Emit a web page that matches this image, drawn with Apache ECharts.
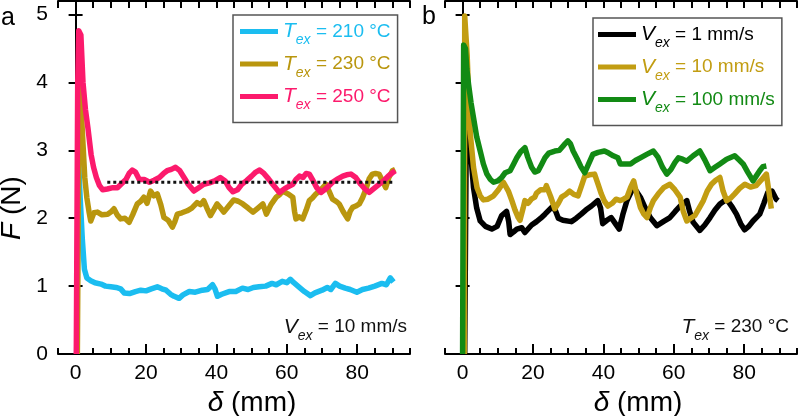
<!DOCTYPE html>
<html>
<head>
<meta charset="utf-8">
<script src="https://cdn.jsdelivr.net/npm/echarts@6/dist/echarts.min.js"></script>
<style>html,body{margin:0;padding:0;background:#fff}#c{width:800px;height:416px}</style>
</head>
<body>
<div id="c"></div>
<script>
// ---- data (delta in mm, F in N) ----
const xTickLabels = [0, 20, 40, 60, 80];
const yTickLabels = [0, 1, 2, 3, 4, 5];

const t210 = [[0.3,0],[0.8,2.9],[1.3,2.3],[1.9,1.7],[2.5,1.25],[3.2,1.12],[4.3,1.08],[5.5,1.05],[7.2,1.03],[8.5,1.0],[10,0.99],[11.5,0.98],[12.8,0.96],[13.8,0.9],[15.3,0.89],[17,0.92],[18.5,0.94],[20,0.93],[21.5,0.96],[23.2,0.99],[24.5,0.96],[25.7,0.94],[27,0.88],[28,0.85],[29.4,0.82],[30.5,0.87],[32.3,0.92],[34,0.91],[36,0.94],[37.5,0.95],[38.9,1.02],[39.6,0.96],[40.3,0.85],[41.5,0.88],[43.6,0.92],[45.5,0.92],[47.4,0.97],[49,0.95],[50.5,0.98],[52.1,0.99],[54,1.0],[55.8,1.04],[57,1.02],[58.7,1.07],[60,1.05],[61,1.1],[62,1.05],[63.4,0.99],[65,0.92],[66.7,0.86],[68,0.9],[70,0.94],[71.5,0.98],[72.5,0.95],[73.8,1.04],[75,1.0],[76.6,0.97],[78,0.95],[79.9,0.91],[81.5,0.95],[83.2,0.97],[85,1.0],[87,1.04],[88.3,1.02],[89.4,1.12],[90.3,1.06]];

const t230 = [[0.5,0],[1.0,4.0],[1.5,3.7],[2.0,3.2],[2.6,2.6],[3.2,2.3],[3.8,2.1],[4.3,1.96],[5.2,2.08],[6.2,2.09],[7.5,2.05],[9.1,2.06],[10.2,2.1],[10.9,2.14],[11.8,2.05],[12.8,1.99],[14,2.0],[15.2,1.94],[16.2,2.05],[17.5,2.21],[18.5,2.25],[19.4,2.31],[20.3,2.22],[21.3,2.40],[22.2,2.33],[23.2,2.36],[24.2,2.2],[25.1,2.01],[26.3,1.97],[27.5,1.87],[28.2,1.95],[28.9,2.06],[30.2,2.08],[31.7,2.11],[33,2.15],[34.5,2.23],[35.5,2.2],[36.4,2.26],[37.3,2.15],[38.3,2.04],[39.2,2.12],[40.2,2.21],[41.2,2.15],[42.1,2.09],[43.5,2.18],[44.9,2.27],[46.2,2.25],[47.5,2.21],[49,2.15],[50.4,2.09],[51.8,2.15],[53.2,2.21],[54.2,2.06],[55.5,2.2],[57,2.31],[58,2.35],[58.9,2.40],[60.3,2.36],[61.7,2.31],[62.2,2.1],[62.6,1.99],[63.5,2.02],[64.5,1.99],[65.5,2.12],[66.4,2.26],[67.3,2.3],[68.3,2.36],[69.7,2.42],[71.1,2.5],[72,2.4],[73,2.28],[74,2.25],[74.9,2.21],[76,2.1],[77.3,1.99],[78,2.1],[78.7,2.16],[79.6,2.18],[80.6,2.21],[81.5,2.3],[82.5,2.43],[83.4,2.58],[84.3,2.65],[85.2,2.66],[86.2,2.65],[87.2,2.55],[88.1,2.45],[89,2.6],[90,2.7],[90.8,2.72]];

const t250 = [[0.2,0],[0.6,4.0],[0.9,4.76],[1.5,4.7],[2.1,4.0],[2.8,3.6],[3.5,3.33],[4.4,2.94],[5.1,2.75],[5.9,2.6],[6.8,2.48],[7.7,2.42],[9,2.43],[10.6,2.45],[11.9,2.45],[12.9,2.5],[14.3,2.57],[15.2,2.66],[16.1,2.71],[17,2.68],[18.1,2.57],[19.5,2.57],[21,2.53],[22.3,2.56],[23.8,2.6],[25,2.66],[26,2.7],[27.2,2.72],[28.4,2.75],[29.6,2.7],[30.8,2.6],[32,2.5],[33.6,2.40],[35,2.45],[36.4,2.5],[38,2.52],[39.5,2.55],[41.1,2.6],[42.5,2.55],[43.6,2.45],[44.7,2.39],[46,2.42],[47.2,2.5],[48.5,2.55],[50,2.62],[51.2,2.68],[52.3,2.71],[53.5,2.66],[54.8,2.58],[56,2.5],[57.9,2.38],[59.5,2.44],[61.7,2.5],[62.6,2.57],[63.6,2.62],[64.6,2.6],[65.5,2.66],[66.4,2.65],[67.5,2.55],[68.5,2.45],[69.7,2.38],[71,2.43],[72,2.48],[73,2.53],[74.5,2.58],[75.9,2.62],[77,2.64],[78.2,2.65],[79.6,2.6],[81,2.5],[82.2,2.43],[83.4,2.38],[84.8,2.44],[86.2,2.5],[87.5,2.55],[88.8,2.62],[90,2.67],[90.8,2.7]];

const plateau = [[9,2.53],[90,2.53]];

const v1 = [[0.6,0],[1.1,3.7],[1.7,3.5],[2.4,2.9],[3.1,2.45],[4,2.15],[5,1.96],[6.5,1.88],[8.3,1.84],[9.8,1.88],[11.1,2.04],[12.5,2.1],[13.1,1.95],[13.5,1.76],[14.5,1.8],[15.4,1.84],[16.8,1.86],[17.7,1.79],[19.6,1.9],[21,1.95],[22.2,2.0],[23.4,2.06],[25.3,2.16],[26.3,2.12],[27.2,2.0],[28.5,1.97],[30.9,1.95],[32.3,2.0],[33.7,2.06],[35,2.12],[36.6,2.18],[38.4,2.26],[39.2,2.15],[39.8,1.92],[41,1.97],[42.2,2.01],[43.4,1.92],[44.5,1.84],[45.5,2.05],[46.7,2.26],[48,2.4],[48.6,2.45],[49.6,2.38],[50.5,2.31],[51.9,2.15],[53.3,2.01],[55.2,1.89],[57,1.95],[58.9,2.01],[60.4,2.1],[61.8,2.18],[63.7,2.26],[64.5,2.1],[65.5,1.94],[67.4,1.82],[68.8,1.9],[70.3,2.01],[71.7,2.12],[73.1,2.21],[75,2.28],[76.4,2.18],[77.8,2.06],[79,1.92],[80.1,1.83],[81.3,1.88],[82.5,1.96],[84.4,2.06],[85.6,2.22],[86.7,2.38],[87.9,2.4],[89.1,2.28],[89.6,2.26]];

const v10 = [[0.5,0],[0.6,4.98],[1.0,4.98],[1.3,4.4],[1.7,3.8],[2.2,3.24],[3.1,2.75],[4.1,2.45],[5,2.33],[5.9,2.27],[7.2,2.28],[8.8,2.33],[10.2,2.42],[11.6,2.53],[12.1,2.55],[13,2.4],[14,2.26],[14.9,2.12],[15.8,2.01],[16.3,1.97],[17.2,2.15],[17.7,2.26],[18.6,2.22],[19.5,2.28],[20.5,2.31],[21,2.37],[22.2,2.42],[23.4,2.42],[23.8,2.48],[25,2.32],[26.2,2.14],[27.2,2.22],[28.1,2.31],[29.3,2.35],[30.4,2.40],[31.6,2.35],[32.8,2.33],[33.8,2.48],[34.7,2.62],[36,2.64],[37.5,2.65],[38.5,2.5],[39.4,2.36],[40.3,2.25],[41.3,2.18],[42.5,2.22],[43.6,2.28],[44.8,2.26],[45.7,2.28],[46.7,2.31],[47.7,2.45],[48.6,2.55],[49.5,2.35],[50.5,2.16],[51.5,2.06],[52.4,2.01],[53.3,2.15],[54.2,2.26],[55.6,2.36],[57.1,2.45],[58.9,2.5],[60.3,2.42],[61.8,2.31],[62.7,2.1],[63.7,1.96],[64.8,2.0],[66,2.04],[67.2,2.15],[68.4,2.26],[69.5,2.4],[70.7,2.5],[71.9,2.56],[73.1,2.6],[74,2.4],[75,2.26],[76.2,2.3],[77.3,2.36],[78.7,2.44],[80.2,2.5],[81.8,2.46],[83.4,2.48],[84.8,2.56],[86.3,2.65],[87,2.4],[87.7,2.14]];

const v100 = [[0.0,0],[0.3,4.55],[0.8,4.5],[1.2,4.2],[1.7,3.97],[2.4,3.7],[3.1,3.48],[4,3.2],[5,2.99],[5.9,2.8],[6.9,2.65],[7.9,2.57],[8.8,2.53],[10,2.55],[11.1,2.6],[12.1,2.67],[13.5,2.7],[14.5,2.8],[15.4,2.89],[16.5,2.98],[17.7,3.04],[18.5,2.9],[19.6,2.75],[20.5,2.68],[21.5,2.7],[22.5,2.8],[23.4,2.89],[24.5,2.96],[26.2,2.99],[27.5,3.0],[28.8,3.08],[29.9,3.14],[30.6,3.1],[31.4,2.99],[32.5,2.88],[33.6,2.76],[34.7,2.67],[35.8,2.8],[37,2.94],[38.5,2.97],[40.3,2.99],[41.5,2.96],[42.8,2.92],[44.1,2.89],[44.8,2.8],[46.2,2.8],[47.7,2.8],[49.1,2.85],[50.5,2.89],[52.3,2.94],[54.2,2.99],[55.5,2.9],[56.8,2.75],[58,2.65],[59.2,2.72],[60.3,2.82],[61.3,2.89],[62.5,2.87],[63.7,2.84],[65.5,2.92],[67.4,2.99],[68.8,2.86],[70.3,2.7],[71.7,2.75],[73.1,2.8],[75,2.87],[77.3,2.92],[78.5,2.86],[79.7,2.8],[81,2.68],[82.5,2.55],[83.4,2.62],[84.4,2.7],[85.3,2.76],[86.3,2.77]];

const leftNames = ['T210', 'T230', 'T250'];
const leftLabels = ['{t|T}{s|ex}{n| = 210 °C}', '{t|T}{s|ex}{n| = 230 °C}', '{t|T}{s|ex}{n| = 250 °C}'];
const rightNames = ['V1', 'V10', 'V100'];
const rightLabels = ['{t|V}{s|ex}{n| = 1 mm/s}', '{t|V}{s|ex}{n| = 10 mm/s}', '{t|V}{s|ex}{n| = 100 mm/s}'];

const C = {T210:'#1bbdf0', T230:'#b9960e', T250:'#fc1a6c', V1:'#000000', V10:'#c29d12', V100:'#128a14'};

const FONT = 'Liberation Sans, Arial, Helvetica, sans-serif';
const labelMap = {};
leftNames.forEach((n,i)=>labelMap[n]=leftLabels[i]);
rightNames.forEach((n,i)=>labelMap[n]=rightLabels[i]);

const rich = {
  t: {fontSize: 21, fontStyle: 'italic', fontFamily: FONT, lineHeight: 32, verticalAlign: 'middle'},
  s: {fontSize: 14, fontStyle: 'italic', fontFamily: FONT, lineHeight: 8, verticalAlign: 'bottom'},
  n: {fontSize: 19, fontFamily: FONT, lineHeight: 32, verticalAlign: 'middle'}
};

const chart = echarts.init(document.getElementById('c'), null, {renderer: 'canvas'});

const axLine = {show: true, lineStyle: {color: '#000', width: 2}};
function xAxesFor(g) {
  return [
    {gridIndex: g, type: 'value', position: 'bottom', min: -5, max: 95, interval: 5,
     axisLine: axLine, splitLine: {show: false},
     axisTick: {show: true, inside: true, length: 6, lineStyle: {color: '#000', width: 2}},
     axisLabel: {show: true, fontSize: 21, color: '#000', fontFamily: FONT, margin: 9,
                 formatter: v => xTickLabels.indexOf(v) >= 0 ? String(v) : ''}},
    {gridIndex: g, type: 'value', position: 'bottom', min: -5, max: 95,
     axisLine: {show: false}, splitLine: {show: false}, axisLabel: {show: false},
     axisTick: {show: true, inside: true, length: 10, customValues: xTickLabels, lineStyle: {color: '#000', width: 2}}},
    {gridIndex: g, type: 'value', position: 'top', min: -5, max: 95, interval: 5,
     axisLine: axLine, splitLine: {show: false}, axisLabel: {show: false},
     axisTick: {show: true, inside: true, length: 7, lineStyle: {color: '#000', width: 2}}}
  ];
}
function yAxesFor(g, labels) {
  return [
    {gridIndex: g, type: 'value', position: 'left', min: 0, max: 5.2, interval: 1,
     axisLine: axLine, splitLine: {show: false},
     axisTick: {show: true, inside: true, length: 7, lineStyle: {color: '#000', width: 2}},
     axisLabel: {show: labels, fontSize: 21, color: '#000', fontFamily: FONT, margin: 10,
                 formatter: v => yTickLabels.indexOf(v) >= 0 ? String(v) : ''}},
    {gridIndex: g, type: 'value', position: 'right', min: 0, max: 5.2, interval: 1,
     axisLine: axLine, splitLine: {show: false}, axisLabel: {show: false},
     axisTick: {show: true, inside: true, length: 7, lineStyle: {color: '#000', width: 2}}}
  ];
}

function lineSeries(name, data, xi, yi) {
  return {name: name, type: 'line', data: data, xAxisIndex: xi, yAxisIndex: yi,
          showSymbol: false, symbol: 'none', color: C[name], animation: false,
          lineStyle: {color: C[name], width: 5.5, join: 'round'}};
}

const legendBase = {
  orient: 'vertical', itemGap: 6, itemWidth: 38, itemHeight: 5, icon: 'rect',
  borderColor: '#555', borderWidth: 1.5, selectedMode: false,
  formatter: n => labelMap[n],
  textStyle: {fontFamily: FONT, fontSize: 19, rich: rich}
};

const option = {
  backgroundColor: '#fff',
  animation: false,
  grid: [
    {left: 58, top: 1, width: 352, height: 353},
    {left: 445, top: 1, width: 353, height: 353}
  ],
  xAxis: [...xAxesFor(0), ...xAxesFor(1)],
  yAxis: [...yAxesFor(0, true), ...yAxesFor(1, false)],
  legend: [
    Object.assign({}, legendBase, {left: 233, top: 15, padding: [6, 7, 10, 7],
      data: leftNames.map(n => ({name: n, textStyle: {color: C[n]}}))}),
    Object.assign({}, legendBase, {left: 593, top: 18, padding: [6, 7, 10, 5],
      data: rightNames.map(n => ({name: n, textStyle: {color: C[n]}}))})
  ],
  series: [
    lineSeries('T210', t210, 0, 0),
    lineSeries('T230', t230, 0, 0),
    lineSeries('T250', t250, 0, 0),
    {name: 'plateau', type: 'line', data: plateau, xAxisIndex: 0, yAxisIndex: 0, showSymbol: false, symbol: 'none',
     lineStyle: {color: '#111', width: 3, type: [3, 3]}, z: 5},
    lineSeries('V1', v1, 3, 2),
    lineSeries('V10', v10, 3, 2),
    lineSeries('V100', v100, 3, 2)
  ],
  graphic: [
    {type: 'text', left: 1, top: 6, style: {text: 'a', fontSize: 25, fontFamily: FONT, fill: '#000'}},
    {type: 'text', left: 422, top: 5, style: {text: 'b', fontSize: 25, fontFamily: FONT, fill: '#000'}},
    {type: 'text', x: 12, y: 208, rotation: Math.PI / 2,
     style: {text: '{i|F}{n| (N)}', align: 'center', verticalAlign: 'middle', fill: '#000',
             rich: {i: {fontSize: 28, fontStyle: 'italic', fontFamily: FONT}, n: {fontSize: 28, fontFamily: FONT}}}},
    {type: 'text', x: 252, y: 403,
     style: {text: '{i|δ}{n| (mm)}', align: 'center', verticalAlign: 'middle', fill: '#000',
             rich: {i: {fontSize: 28, fontStyle: 'italic', fontFamily: FONT}, n: {fontSize: 28, fontFamily: FONT}}}},
    {type: 'text', x: 638, y: 403,
     style: {text: '{i|δ}{n| (mm)}', align: 'center', verticalAlign: 'middle', fill: '#000',
             rich: {i: {fontSize: 28, fontStyle: 'italic', fontFamily: FONT}, n: {fontSize: 28, fontFamily: FONT}}}},
    {type: 'text', x: 407, y: 327,
     style: {text: '{t|V}{s|ex}{n| = 10 mm/s}', align: 'right', verticalAlign: 'middle', fill: '#111', rich: rich}},
    {type: 'text', x: 789, y: 327,
     style: {text: '{t|T}{s|ex}{n| = 230 °C}', align: 'right', verticalAlign: 'middle', fill: '#111', rich: rich}}
  ]
};
chart.setOption(option);
</script>
</body>
</html>
